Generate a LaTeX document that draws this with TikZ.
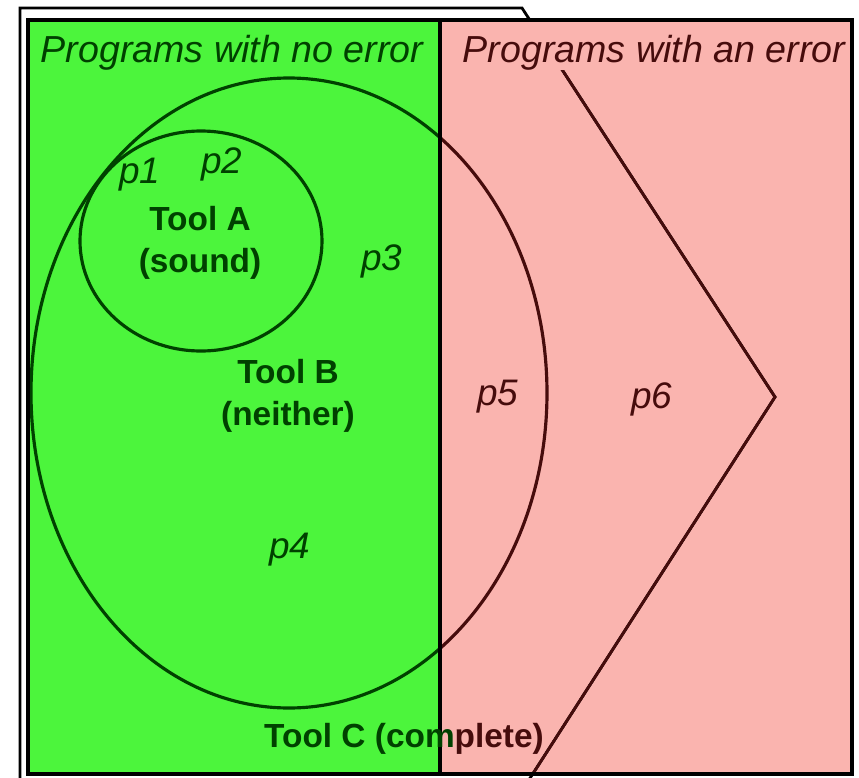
\documentclass[tikz,border=0pt]{standalone}
\usepackage{fontspec}
\setmainfont{Liberation Sans}
\definecolor{okgreen}{RGB}{76,245,60}
\definecolor{errpink}{RGB}{250,180,175}
\definecolor{okink}{RGB}{0,65,0}
\definecolor{errink}{RGB}{70,12,12}

\begin{document}
\begin{tikzpicture}[
    x=0.01cm, y=-0.01cm,
    edge/.style={line width=0.9pt, line join=miter},
    region/.style={draw=black, line width=1.1pt},
    heading/.style={font=\fontsize{10.7}{12}\selectfont\itshape, anchor=base, inner xsep=2pt, inner ysep=0pt, text height=11.7pt, text depth=2.3pt},
    prog/.style={font=\fontsize{10.5}{12}\selectfont\itshape, anchor=base},
    tool/.style={font=\fontsize{9.5}{11.8}\selectfont\bfseries, align=center},
  ]
  \clip (0,0) rectangle (859,778);
  \fill[okgreen] (28,20) rectangle (440,774);
  \fill[errpink] (440,20) rectangle (852,774);
  % Tool C runs on past the lower edge
  \draw[edge, line width=0.8pt] (20,800) -- (20,8) -- (522,8) -- (775,397) -- (516,800);
  \foreach \xa/\xb/\ink in {28/440/okink, 440/852/errink} {
    \begin{scope}
      \clip (\xa,20) rectangle (\xb,774);
      \draw[edge, \ink] (289,393) ellipse [x radius=258, y radius=315];
      \draw[edge, \ink] (201,241) ellipse [x radius=121, y radius=110];
      \draw[edge, \ink, line width=0.8pt] (522,8) -- (775,397) -- (516,800);
    \end{scope}
  }

  \node[heading, fill=okgreen, text=okink] (noerr) at (232,62) {Programs with no error};
  \node[heading, fill=errpink, text=errink] (witherr) at (654,62) {Programs with an error};
  \draw[region] (28,20) rectangle (852,774);
  \draw[region] (440,20) -- (440,774);

  \node[prog, text=okink] (p1) at (140,183) {p1};
  \node[prog, text=okink] (p2) at (222,173) {p2};
  \node[prog, text=okink] (p3) at (382,270) {p3};
  \node[prog, text=okink] (p4) at (290,558) {p4};
  \node[prog, text=errink] (p5) at (498,405) {p5};
  \node[prog, text=errink] (p6) at (652,408) {p6};

  \node[tool, text=okink] (toolA) at (200,243) {Tool A\\(sound)};
  \node[tool, text=okink] (toolB) at (288,396) {Tool B\\(neither)};
  \node[tool, text=okink, anchor=base] (toolC) at (404,748) {Tool C (com\textcolor{errink}{plete)}};
\end{tikzpicture}
\end{document}
